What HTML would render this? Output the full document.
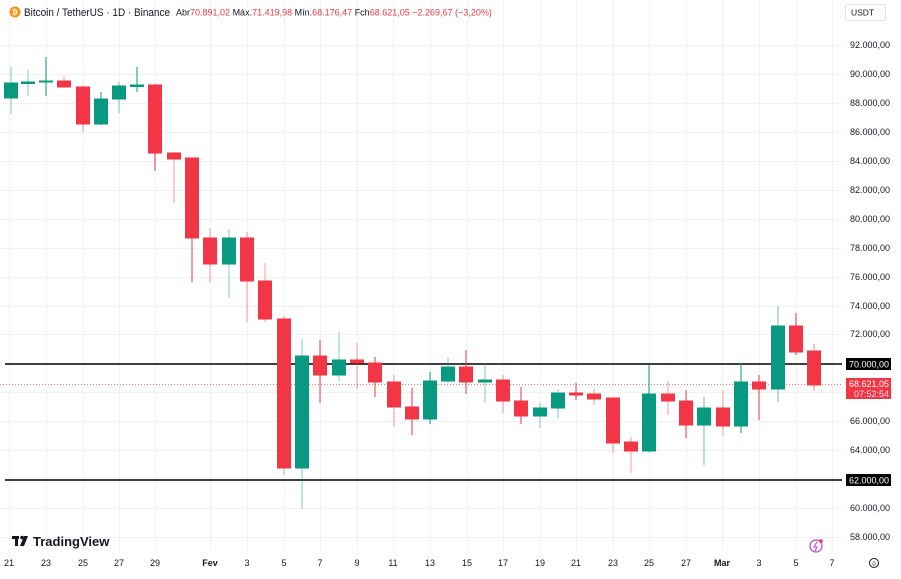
<!DOCTYPE html>
<html><head><meta charset="utf-8"><style>
html,body{margin:0;padding:0;background:#fff;}
body{width:901px;height:574px;overflow:hidden;font-family:"Liberation Sans",sans-serif;}
</style></head><body>
<svg width="901" height="574" viewBox="0 0 901 574" xmlns="http://www.w3.org/2000/svg" font-family="Liberation Sans, sans-serif">
<rect width="901" height="574" fill="#fff"/>
<g stroke="#f2f2f2" stroke-width="1">
<line x1="0" x2="842" y1="45.5" y2="45.5"/><line x1="0" x2="842" y1="74.5" y2="74.5"/><line x1="0" x2="842" y1="103.5" y2="103.5"/><line x1="0" x2="842" y1="132.5" y2="132.5"/><line x1="0" x2="842" y1="161.5" y2="161.5"/><line x1="0" x2="842" y1="190.5" y2="190.5"/><line x1="0" x2="842" y1="219.5" y2="219.5"/><line x1="0" x2="842" y1="248.5" y2="248.5"/><line x1="0" x2="842" y1="277.5" y2="277.5"/><line x1="0" x2="842" y1="306.5" y2="306.5"/><line x1="0" x2="842" y1="334.5" y2="334.5"/><line x1="0" x2="842" y1="392.5" y2="392.5"/><line x1="0" x2="842" y1="421.5" y2="421.5"/><line x1="0" x2="842" y1="450.5" y2="450.5"/><line x1="0" x2="842" y1="508.5" y2="508.5"/><line x1="0" x2="842" y1="537.5" y2="537.5"/>
<line x1="9.5" x2="9.5" y1="0" y2="550"/><line x1="46.5" x2="46.5" y1="0" y2="550"/><line x1="83.5" x2="83.5" y1="0" y2="550"/><line x1="119.5" x2="119.5" y1="0" y2="550"/><line x1="155.5" x2="155.5" y1="0" y2="550"/><line x1="210.5" x2="210.5" y1="0" y2="550"/><line x1="247.5" x2="247.5" y1="0" y2="550"/><line x1="284.5" x2="284.5" y1="0" y2="550"/><line x1="320.5" x2="320.5" y1="0" y2="550"/><line x1="357.5" x2="357.5" y1="0" y2="550"/><line x1="393.5" x2="393.5" y1="0" y2="550"/><line x1="430.5" x2="430.5" y1="0" y2="550"/><line x1="467.5" x2="467.5" y1="0" y2="550"/><line x1="503.5" x2="503.5" y1="0" y2="550"/><line x1="540.5" x2="540.5" y1="0" y2="550"/><line x1="576.5" x2="576.5" y1="0" y2="550"/><line x1="613.5" x2="613.5" y1="0" y2="550"/><line x1="649.5" x2="649.5" y1="0" y2="550"/><line x1="686.5" x2="686.5" y1="0" y2="550"/><line x1="722.5" x2="722.5" y1="0" y2="550"/><line x1="759.5" x2="759.5" y1="0" y2="550"/><line x1="796.5" x2="796.5" y1="0" y2="550"/><line x1="832.5" x2="832.5" y1="0" y2="550"/>
</g>
<line x1="5" x2="842" y1="364" y2="364" stroke="#000" stroke-width="1.6"/>
<line x1="5" x2="842" y1="480" y2="480" stroke="#000" stroke-width="1.6"/>
<line x1="0" x2="842" y1="384.5" y2="384.5" stroke="#f23645" stroke-width="1" stroke-dasharray="1,2" opacity="0.7"/>
<g stroke-width="1">
<g fill="#089981" stroke="#089981"><line x1="11" x2="11" y1="67" y2="114" opacity=".5"/><rect x="4.5" y="83" width="13" height="15"/></g>
<g fill="#089981" stroke="#089981"><line x1="28" x2="28" y1="70" y2="96" opacity=".5"/><rect x="21.5" y="82" width="13" height="1.5"/></g>
<g fill="#089981" stroke="#089981"><line x1="46" x2="46" y1="57" y2="96"/><rect x="39.5" y="81" width="13" height="1"/></g>
<g fill="#f23645" stroke="#f23645"><line x1="64" x2="64" y1="76" y2="87" opacity=".5"/><rect x="57.5" y="81" width="13" height="6"/></g>
<g fill="#f23645" stroke="#f23645"><line x1="83" x2="83" y1="85" y2="132" opacity=".5"/><rect x="76.5" y="87" width="13" height="37"/></g>
<g fill="#089981" stroke="#089981"><line x1="101" x2="101" y1="92" y2="125"/><rect x="94.5" y="99" width="13" height="25"/></g>
<g fill="#089981" stroke="#089981"><line x1="119" x2="119" y1="82" y2="113" opacity=".5"/><rect x="112.5" y="86" width="13" height="13"/></g>
<g fill="#089981" stroke="#089981"><line x1="137" x2="137" y1="67" y2="92"/><rect x="130.5" y="85" width="13" height="1.5"/></g>
<g fill="#f23645" stroke="#f23645"><line x1="155" x2="155" y1="84" y2="171"/><rect x="148.5" y="85" width="13" height="68"/></g>
<g fill="#f23645" stroke="#f23645"><line x1="174" x2="174" y1="152" y2="203" opacity=".5"/><rect x="167.5" y="153" width="13" height="6"/></g>
<g fill="#f23645" stroke="#f23645"><line x1="192" x2="192" y1="158" y2="282"/><rect x="185.5" y="158" width="13" height="80"/></g>
<g fill="#f23645" stroke="#f23645"><line x1="210" x2="210" y1="228" y2="282" opacity=".5"/><rect x="203.5" y="238" width="13" height="26"/></g>
<g fill="#089981" stroke="#089981"><line x1="229" x2="229" y1="229" y2="298" opacity=".5"/><rect x="222.5" y="238" width="13" height="26"/></g>
<g fill="#f23645" stroke="#f23645"><line x1="247" x2="247" y1="232" y2="322" opacity=".5"/><rect x="240.5" y="238" width="13" height="43"/></g>
<g fill="#f23645" stroke="#f23645"><line x1="265" x2="265" y1="263" y2="322" opacity=".5"/><rect x="258.5" y="281" width="13" height="38"/></g>
<g fill="#f23645" stroke="#f23645"><line x1="284" x2="284" y1="316" y2="475" opacity=".5"/><rect x="277.5" y="319" width="13" height="149"/></g>
<g fill="#089981" stroke="#089981"><line x1="302" x2="302" y1="339" y2="509" opacity=".5"/><rect x="295.5" y="356" width="13" height="112"/></g>
<g fill="#f23645" stroke="#f23645"><line x1="320" x2="320" y1="340" y2="403"/><rect x="313.5" y="356" width="13" height="19"/></g>
<g fill="#089981" stroke="#089981"><line x1="339" x2="339" y1="332" y2="381" opacity=".5"/><rect x="332.5" y="360" width="13" height="15"/></g>
<g fill="#f23645" stroke="#f23645"><line x1="357" x2="357" y1="343" y2="389" opacity=".5"/><rect x="350.5" y="360" width="13" height="3"/></g>
<g fill="#f23645" stroke="#f23645"><line x1="375" x2="375" y1="357" y2="397"/><rect x="368.5" y="363" width="13" height="19"/></g>
<g fill="#f23645" stroke="#f23645"><line x1="394" x2="394" y1="375" y2="426" opacity=".5"/><rect x="387.5" y="382" width="13" height="25"/></g>
<g fill="#f23645" stroke="#f23645"><line x1="412" x2="412" y1="388" y2="435"/><rect x="405.5" y="407" width="13" height="12"/></g>
<g fill="#089981" stroke="#089981"><line x1="430" x2="430" y1="372" y2="424"/><rect x="423.5" y="381" width="13" height="38"/></g>
<g fill="#089981" stroke="#089981"><line x1="448" x2="448" y1="357" y2="383" opacity=".5"/><rect x="441.5" y="367" width="13" height="14"/></g>
<g fill="#f23645" stroke="#f23645"><line x1="466" x2="466" y1="350" y2="394"/><rect x="459.5" y="367" width="13" height="15"/></g>
<g fill="#089981" stroke="#089981"><line x1="485" x2="485" y1="363" y2="403" opacity=".5"/><rect x="478.5" y="380" width="13" height="2"/></g>
<g fill="#f23645" stroke="#f23645"><line x1="503" x2="503" y1="375" y2="413" opacity=".5"/><rect x="496.5" y="380" width="13" height="21"/></g>
<g fill="#f23645" stroke="#f23645"><line x1="521" x2="521" y1="387" y2="424"/><rect x="514.5" y="401" width="13" height="15"/></g>
<g fill="#089981" stroke="#089981"><line x1="540" x2="540" y1="403" y2="428" opacity=".5"/><rect x="533.5" y="408" width="13" height="8"/></g>
<g fill="#089981" stroke="#089981"><line x1="558" x2="558" y1="389" y2="418" opacity=".5"/><rect x="551.5" y="393" width="13" height="15"/></g>
<g fill="#f23645" stroke="#f23645"><line x1="576" x2="576" y1="383" y2="400"/><rect x="569.5" y="393" width="13" height="2"/></g>
<g fill="#f23645" stroke="#f23645"><line x1="594" x2="594" y1="389" y2="405" opacity=".5"/><rect x="587.5" y="394" width="13" height="5"/></g>
<g fill="#f23645" stroke="#f23645"><line x1="613" x2="613" y1="398" y2="453" opacity=".5"/><rect x="606.5" y="398" width="13" height="45"/></g>
<g fill="#f23645" stroke="#f23645"><line x1="631" x2="631" y1="437" y2="473" opacity=".5"/><rect x="624.5" y="442" width="13" height="9"/></g>
<g fill="#089981" stroke="#089981"><line x1="649" x2="649" y1="365" y2="452"/><rect x="642.5" y="394" width="13" height="57"/></g>
<g fill="#f23645" stroke="#f23645"><line x1="668" x2="668" y1="381" y2="415" opacity=".5"/><rect x="661.5" y="394" width="13" height="7"/></g>
<g fill="#f23645" stroke="#f23645"><line x1="686" x2="686" y1="390" y2="438"/><rect x="679.5" y="401" width="13" height="24"/></g>
<g fill="#089981" stroke="#089981"><line x1="704" x2="704" y1="397" y2="465" opacity=".6"/><rect x="697.5" y="408" width="13" height="17"/></g>
<g fill="#f23645" stroke="#f23645"><line x1="723" x2="723" y1="390" y2="436" opacity=".5"/><rect x="716.5" y="408" width="13" height="18"/></g>
<g fill="#089981" stroke="#089981"><line x1="741" x2="741" y1="363" y2="433"/><rect x="734.5" y="382" width="13" height="44"/></g>
<g fill="#f23645" stroke="#f23645"><line x1="759" x2="759" y1="375" y2="420"/><rect x="752.5" y="382" width="13" height="7"/></g>
<g fill="#089981" stroke="#089981"><line x1="778" x2="778" y1="306" y2="402" opacity=".6"/><rect x="771.5" y="326" width="13" height="63"/></g>
<g fill="#f23645" stroke="#f23645"><line x1="796" x2="796" y1="313" y2="355"/><rect x="789.5" y="326" width="13" height="26"/></g>
<g fill="#f23645" stroke="#f23645"><line x1="814" x2="814" y1="344" y2="391" opacity=".6"/><rect x="807.5" y="351" width="13" height="34"/></g>
</g>
<g font-size="9" fill="#131722" text-anchor="end">
<text x="890" y="48">92.000,00</text><text x="890" y="77">90.000,00</text><text x="890" y="106">88.000,00</text><text x="890" y="135">86.000,00</text><text x="890" y="164">84.000,00</text><text x="890" y="193">82.000,00</text><text x="890" y="222">80.000,00</text><text x="890" y="251">78.000,00</text><text x="890" y="280">76.000,00</text><text x="890" y="309">74.000,00</text><text x="890" y="337">72.000,00</text><text x="890" y="424">66.000,00</text><text x="890" y="453">64.000,00</text><text x="890" y="511">60.000,00</text><text x="890" y="540">58.000,00</text>
</g>
<rect x="846" y="358" width="45" height="12" fill="#000"/><text x="889" y="367.5" font-size="9" fill="#fff" text-anchor="end">70.000,00</text>
<rect x="846" y="474" width="45" height="12" fill="#000"/><text x="889" y="483.5" font-size="9" fill="#fff" text-anchor="end">62.000,00</text>
<rect x="846" y="378" width="45" height="21" fill="#f23645"/><text x="889" y="387" font-size="9" fill="#fff" text-anchor="end">68.621,05</text><text x="889" y="397" font-size="9" fill="#fde" text-anchor="end">07:52:54</text>
<g font-size="9" fill="#131722" text-anchor="middle">
<text x="9" y="566">21</text><text x="46" y="566">23</text><text x="83" y="566">25</text><text x="119" y="566">27</text><text x="155" y="566">29</text><text x="210" y="566" font-weight="bold">Fev</text><text x="247" y="566">3</text><text x="284" y="566">5</text><text x="320" y="566">7</text><text x="357" y="566">9</text><text x="393" y="566">11</text><text x="430" y="566">13</text><text x="467" y="566">15</text><text x="503" y="566">17</text><text x="540" y="566">19</text><text x="576" y="566">21</text><text x="613" y="566">23</text><text x="649" y="566">25</text><text x="686" y="566">27</text><text x="722" y="566" font-weight="bold">Mar</text><text x="759" y="566">3</text><text x="796" y="566">5</text><text x="832" y="566">7</text>
</g>
<circle cx="874" cy="563" r="4.5" fill="none" stroke="#131722" stroke-width="1"/><text x="874" y="566" font-size="6" text-anchor="middle" fill="#131722">0</text>
<circle cx="816" cy="546" r="6" fill="none" stroke="#b341e0" stroke-width="1.2"/><path d="M817 542 L814 547 L817 547 L815 551" fill="none" stroke="#b341e0" stroke-width="1"/><circle cx="821" cy="541" r="1.8" fill="#f23645"/>
<circle cx="15" cy="12" r="5.5" fill="#f7931a"/><text x="15" y="14.5" font-size="7" fill="#fff" text-anchor="middle" font-weight="bold">₿</text>
<text x="24" y="16" font-size="11" fill="#131722" textLength="146" lengthAdjust="spacingAndGlyphs">Bitcoin / TetherUS · 1D · Binance</text>
<text x="176" y="15.5" font-size="9" fill="#131722">Abr<tspan fill="#f23645">70.891,02</tspan> Máx.<tspan fill="#f23645">71.419,98</tspan> Mín.<tspan fill="#f23645">68.176,47</tspan> Fch<tspan fill="#f23645">68.621,05</tspan> <tspan fill="#f23645">−2.269,67 (−3,20%)</tspan></text>
<rect x="845.5" y="4.5" width="40" height="16" rx="2" fill="#fff" stroke="#e0e3eb"/><text x="851" y="15.5" font-size="8.5" fill="#131722">USDT</text>
<g fill="#131722"><rect x="12" y="536" width="7" height="3"/><rect x="15" y="536" width="3" height="10"/><circle cx="22" cy="537.5" r="1.8"/><path d="M24 536 L28 536 L24 546 L20 546 Z"/></g>
<text x="33" y="546" font-size="13" font-weight="bold" fill="#131722">TradingView</text>
</svg>
</body></html>
